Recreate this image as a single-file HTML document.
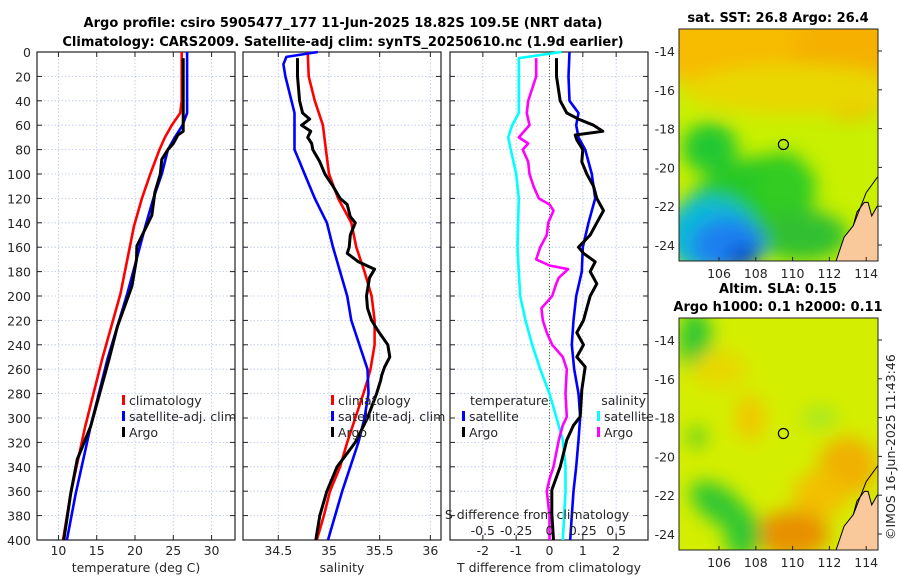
<!DOCTYPE html>
<html><head><meta charset="utf-8"><style>
body{margin:0;background:#fff;}
svg{display:block;font-family:"DejaVu Sans","Liberation Sans",sans-serif;}
.t{font-size:12.5px;fill:#262626;}
.b{font-size:13px;font-weight:bold;fill:#000;}
</style></head><body>
<svg id="fig" width="900" height="580" viewBox="0 0 900 580" xmlns="http://www.w3.org/2000/svg">
<text class="b" x="343" y="27" text-anchor="middle">Argo profile: csiro 5905477_177 11-Jun-2025 18.82S 109.5E (NRT data)</text>
<text class="b" x="343" y="46" text-anchor="middle">Climatology: CARS2009. Satellite-adj clim: synTS_20250610.nc (1.9d earlier)</text>
<g id="p1"></g>
<g id="p2"></g>
<g id="p3"></g>
<g id="m1"></g>
<g id="m2"></g>
<text class="t" transform="translate(895,540) rotate(-90)">©IMOS 16-Jun-2025 11:43:46</text>
</svg>
<script>
// ---- data ----
const tClimD=[0,40,50,60,70,80,100,120,143,198,252,307,362,400];
const tClimV=[26.1,26.1,25.9,24.8,23.9,23.2,22.0,20.9,19.85,18.1,15.7,13.5,11.6,10.6];
const tSatD=[0,50,60,70,80,100,120,143,170,198,252,307,362,400];
const tSatV=[26.8,26.8,26.2,25.2,24.3,23.5,22.4,21.35,20.2,19.0,16.4,14.2,12.25,11.1];
const tArgoD=[5,65,68,75,80,88,100,115,134,159,170,192,225,252,307,334,362,400];
const tArgoV=[26.3,26.3,25.6,25.0,24.3,23.5,23.3,22.6,22.2,20.25,20.2,19.6,17.7,16.6,14.2,12.45,11.6,10.7];
const sClimD=[0,20,40,60,80,100,120,140,160,180,200,220,240,260,269,280,300,320,340,360,380,400];
const sClimV=[34.79,34.80,34.86,34.94,34.97,35.0,35.09,35.22,35.27,35.35,35.42,35.45,35.45,35.41,35.38,35.34,35.26,35.18,35.11,35.01,34.95,34.88];
const sSatD=[0,4,10,20,40,50,60,80,90,100,120,140,160,180,200,220,240,260,280,300,320,340,360,380,400];
const sSatV=[34.89,34.58,34.55,34.57,34.63,34.66,34.66,34.66,34.71,34.76,34.86,34.98,35.04,35.11,35.18,35.22,35.30,35.38,35.39,35.35,35.29,35.21,35.13,35.06,34.99];
const sArgoD=[5,20,40,50,55,60,65,70,75,80,90,100,110,120,125,135,140,150,160,165,172,178,185,195,200,210,220,228,240,250,258,265,269,280,300,320,340,360,380,400];
const sArgoV=[34.69,34.69,34.71,34.74,34.81,34.73,34.82,34.79,34.83,34.84,34.91,34.96,35.04,35.11,35.18,35.21,35.26,35.21,35.20,35.18,35.29,35.45,35.40,35.38,35.37,35.38,35.42,35.48,35.58,35.60,35.55,35.52,35.51,35.47,35.38,35.26,35.08,34.98,34.91,34.87];
const dTsatD=[0,20,40,50,60,70,80,100,120,140,160,180,200,220,240,260,280,299,318,340,360,380,400];
const dTsatV=[0.6,0.57,0.6,0.87,0.8,0.87,1.07,1.27,1.37,1.17,1.0,0.97,0.8,0.72,0.67,0.74,0.87,0.92,0.87,0.8,0.72,0.67,0.62];
const dTargoD=[5,20,40,50,55,60,65,68,72,80,90,100,110,120,130,140,150,160,165,172,180,190,200,210,220,230,240,250,258,277,299,306,318,340,359,378,400];
const dTargoV=[0.21,0.21,0.32,0.52,0.87,1.32,1.6,0.77,0.82,1.0,0.97,1.12,1.32,1.42,1.62,1.42,1.22,0.87,1.02,1.37,1.22,1.42,1.22,1.12,1.02,0.82,1.02,0.82,1.07,0.97,0.92,0.72,0.52,0.32,0.07,0.07,0.12];
const dSsatD=[0,5,50,60,70,80,100,120,160,180,200,220,240,260,280,299,318,340,360,380,400];
const dSsatV=[0.09,-0.23,-0.23,-0.28,-0.31,-0.29,-0.25,-0.23,-0.24,-0.23,-0.22,-0.18,-0.13,-0.07,0.0,0.05,0.1,0.12,0.12,0.11,0.1];
const dSargoD=[5,20,40,50,60,70,75,80,90,100,110,120,125,130,140,150,160,170,175,178,185,190,200,210,220,230,240,250,260,280,299,306,318,340,350,360,380,400];
const dSargoV=[-0.1,-0.1,-0.16,-0.17,-0.15,-0.23,-0.16,-0.2,-0.16,-0.15,-0.12,-0.08,0.0,0.03,-0.01,-0.02,-0.07,-0.1,0.0,0.14,0.07,0.05,0.02,-0.06,-0.05,-0.02,0.02,0.1,0.13,0.12,0.13,0.1,0.07,0.03,0.0,-0.02,0.0,0.0];
const depthTicks=[0,20,40,60,80,100,120,140,160,180,200,220,240,260,280,300,320,340,360,380,400];
const tTicks=[10,15,20,25,30];
const sTicks=[34.5,35,35.5,36];
const dTTicks=[-2,-1,0,1,2];
const dSTicks=[-0.5,-0.25,0,0.25,0.5];
const latTicks=[-14,-16,-18,-20,-22,-24];
const lonTicks=[106,108,110,112,114];
const argoLon=109.5, argoLat=-18.82;

const NS='http://www.w3.org/2000/svg';
function mk(tag,attrs,parent){const e=document.createElementNS(NS,tag);for(const k in attrs)e.setAttribute(k,attrs[k]);parent.appendChild(e);return e;}
const Y0=52,Y1=540;
const yD=d=>Y0+d*(Y1-Y0)/400;

function panel(g,x0,x1,vmin,vmax,ticks,labels,showY){
  const xs=v=>x0+(v-vmin)/(vmax-vmin)*(x1-x0);
  ticks.forEach(t=>{const l=mk('line',{x1:xs(t),x2:xs(t),y1:Y0,y2:Y1,stroke:'#b8c4ec','stroke-width':0.8,'stroke-dasharray':'1.5,2'},g);
    
    mk('line',{x1:xs(t),x2:xs(t),y1:Y1,y2:Y1-5,stroke:'#222'},g);mk('line',{x1:xs(t),x2:xs(t),y1:Y0,y2:Y0+5,stroke:'#222'},g);});
  depthTicks.forEach(d=>{mk('line',{x1:x0,x2:x1,y1:yD(d),y2:yD(d),stroke:'#b8c4ec','stroke-width':0.8,'stroke-dasharray':'1.5,2'},g);
    mk('line',{x1:x0,x2:x0+5,y1:yD(d),y2:yD(d),stroke:'#222'},g);mk('line',{x1:x1,x2:x1-5,y1:yD(d),y2:yD(d),stroke:'#222'},g);
    if(showY){const t=mk('text',{x:x0-6,y:yD(d)+5,'text-anchor':'end',class:'t'},g);t.textContent=d;
      }});
  if(labels) ticks.forEach((t,i)=>{const tx=mk('text',{x:xs(t),y:555,'text-anchor':'middle',class:'t'},g);tx.textContent=labels[i];
    });
  const r=mk('rect',{x:x0,y:Y0,width:x1-x0,height:Y1-Y0,fill:'none',stroke:'#222','stroke-width':1.2},g);
  
  return xs;
}
function line(g,xs,D,V,color,name,w){
  const pts=D.map((d,i)=>xs(V[i]).toFixed(1)+','+yD(d).toFixed(1)).join(' ');
  const p=mk('polyline',{points:pts,fill:'none',stroke:color,'stroke-width':w||2.6,'stroke-linejoin':'round'},g);
  
}
function txt(g,x,y,s,anchor,name){const t=mk('text',{x:x,y:y,'text-anchor':anchor||'start',class:'t'},g);t.textContent=s;
  return t;}
function leg(g,x,y,color,s,name){mk('rect',{x:x,y:y-10,width:3,height:10,fill:color},g);txt(g,x+7,y,s,'start',name);}

// Panel 1
const g1=document.getElementById('p1');
const xs1=panel(g1,37,235,7.2,33.06,tTicks,tTicks.map(String),true);
line(g1,xs1,tClimD,tClimV,'#ff0000','temperature-climatology-line');
line(g1,xs1,tSatD,tSatV,'#0000ff','temperature-satellite-line');
line(g1,xs1,tArgoD,tArgoV,'#000000','temperature-argo-line',3);
leg(g1,122,405,'#ff0000','climatology','legend-climatology');
leg(g1,122,421,'#0000ff','satellite-adj. clim','legend-satellite');
leg(g1,122,437,'#000000','Argo','legend-argo');
txt(g1,136,572,'temperature (deg C)','middle','x-axis-title');

// Panel 2
const g2=document.getElementById('p2');
const xs2=panel(g2,243,441,34.152,36.105,sTicks,sTicks.map(String),false);
line(g2,xs2,sClimD,sClimV,'#ff0000','salinity-climatology-line');
line(g2,xs2,sSatD,sSatV,'#0000ff','salinity-satellite-line');
line(g2,xs2,sArgoD,sArgoV,'#000000','salinity-argo-line',3);
leg(g2,331,405,'#ff0000','climatology','legend-climatology');
leg(g2,331,421,'#0000ff','satellite-adj. clim','legend-satellite');
leg(g2,331,437,'#000000','Argo','legend-argo');
txt(g2,342,572,'salinity','middle','x-axis-title');

// Panel 3
const g3=document.getElementById('p3');
const xs3=panel(g3,450,648,-2.985,2.955,dTTicks,dTTicks.map(String),false);
const xsS=v=>xs3(v*4);
const z=mk('line',{x1:xs3(0),x2:xs3(0),y1:Y0,y2:Y1,stroke:'#556b2f','stroke-width':1,'stroke-dasharray':'1,2'},g3);

line(g3,xsS,dSsatD,dSsatV,'#00ffff','salinity-satellite-diff-line');
line(g3,xsS,dSargoD,dSargoV,'#ff00ff','salinity-argo-diff-line');
line(g3,xs3,dTsatD,dTsatV,'#0000ff','temperature-satellite-diff-line');
line(g3,xs3,dTargoD,dTargoV,'#000000','temperature-argo-diff-line',3);
txt(g3,470,405,'temperature','start','legend-temperature-header');
leg(g3,462,421,'#0000ff','satellite','legend-t-satellite');
leg(g3,462,437,'#000000','Argo','legend-argo');
txt(g3,646,405,'salinity','end','legend-salinity-header');
leg(g3,597,421,'#00ffff','satellite','legend-s-satellite');
leg(g3,597,437,'#ff00ff','Argo','legend-s-argo');
txt(g3,537,519,'S difference from climatology','middle','s-axis-title');
dSTicks.forEach(v=>txt(g3,xsS(v),535,String(v),'middle','s-tick-label'));
txt(g3,549,572,'T difference from climatology','middle','x-axis-title');

// Maps
function map(g,x0,y0,title1,title2,blobs,base){
  const x1=878,y1=y0+232;
  const lx=l=>x0+40+(l-106)*18.4;
  const ly=l=>y0+22+(-14-l)*19.4;
  const id='c'+y0;
  const defs=mk('defs',{},g);
  const cp=mk('clipPath',{id:id},defs);mk('rect',{x:x0,y:y0,width:x1-x0,height:y1-y0},cp);
  const f=mk('filter',{id:'f'+y0,x:'-50%',y:'-50%',width:'200%',height:'200%'},defs);mk('feGaussianBlur',{stdDeviation:9},f);
  const cg=mk('g',{'clip-path':'url(#'+id+')'},g);
  mk('rect',{x:x0,y:y0,width:x1-x0,height:y1-y0,fill:base},cg);
  const bg=mk('g',{filter:'url(#f'+y0+')'},cg);
  blobs.forEach(b=>mk('ellipse',{cx:lx(b[0]),cy:ly(b[1]),rx:b[2]*18.4,ry:b[3]*19.4,fill:b[4],transform:'rotate('+(b[5]||0)+' '+lx(b[0])+' '+ly(b[1])+')'},bg));
  const land=mk('polygon',{points:[[112.3,-25],[112.8,-23.6],[113.3,-23],[113.5,-22.3],[113.9,-21.8],[114.1,-21.8],[114.3,-22.5],[114.6,-22],[115,-21.8],[115,-25]].map(p=>lx(p[0])+','+ly(p[1])).join(' '),fill:'#f9c89b',stroke:'#000','stroke-width':1},cg);
  
  mk('polyline',{points:[[113.3,-23],[114,-21.3],[115,-20]].map(p=>lx(p[0])+','+ly(p[1])).join(' '),fill:'none',stroke:'#000','stroke-width':1},cg);
  const c=mk('circle',{cx:lx(argoLon),cy:ly(argoLat),r:5,fill:'none',stroke:'#000','stroke-width':1.2},g);
  
  mk('rect',{x:x0,y:y0,width:x1-x0,height:y1-y0,fill:'none',stroke:'#222','stroke-width':1},g);
  latTicks.forEach(l=>{mk('line',{x1:x1,x2:x1+4,y1:ly(l),y2:ly(l),stroke:'#222'},g);txt(g,x0-4,ly(l)+5,String(l),'end','lat-tick-label');});
  lonTicks.forEach(l=>{mk('line',{x1:lx(l),x2:lx(l),y1:y1,y2:y1-4,stroke:'#222'},g);txt(g,lx(l),y1+17,String(l),'middle','lon-tick-label');});
  const t1=mk('text',{x:778,y:title2?y0-25:y0-7,'text-anchor':'middle',class:'b'},g);t1.textContent=title1;
  
  if(title2){const t2=mk('text',{x:778,y:y0-7,'text-anchor':'middle',class:'b'},g);t2.textContent=title2;
    }
}
map(document.getElementById('m1'),679,29,'sat. SST: 26.8 Argo: 26.4',null,[
 [109,-13.5,7,3,'#f7bb00'],[113,-14.5,3,3,'#f5b000'],[110,-16,6,1.3,'#e8d800'],
 [105.5,-19,1.5,1.3,'#20c830'],[107.5,-22,4,2.3,'#28c828',-25],[109.5,-21,1.5,1.8,'#30cc20'],[110.5,-23.5,2.5,1.3,'#30c030'],
 [105.5,-23.5,2.5,2,'#10b8d8'],[106.5,-24,2,1.4,'#1e80f0'],[107.3,-24.6,0.8,0.5,'#0040c0']
],'#c8f000');
map(document.getElementById('m2'),679,318,'Altim. SLA: 0.15','Argo h1000: 0.1 h2000: 0.11',[
 [104.7,-14,0.9,1.6,'#30c830'],[106,-15.5,1.5,1,'#e8d800'],[107.7,-18,0.8,1.2,'#f0c800'],[111.5,-18,1,0.6,'#a8e820'],
 [113,-20.5,1.6,1.5,'#f0b000'],[111.5,-22,1.5,1.2,'#f2c000'],[110,-24,2,1.2,'#e89000'],
 [106,-22.5,1.8,0.9,'#30c830',35],[107.3,-24,1,1.3,'#30c830'],[104.8,-19,0.5,0.6,'#60d020']
],'#d4ee00');
</script>
</body></html>
